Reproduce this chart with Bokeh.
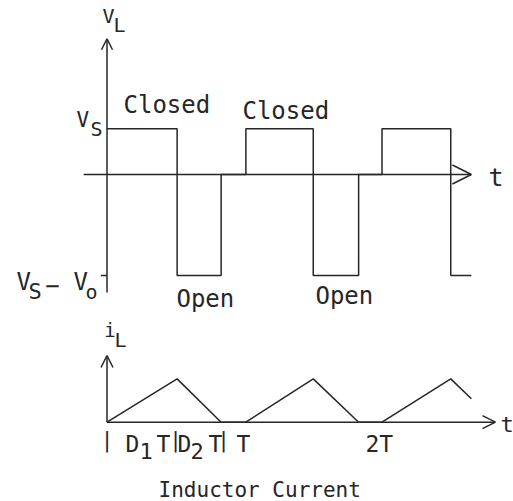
from bokeh.plotting import figure
from bokeh.layouts import column
from bokeh.models import Arrow, OpenHead
from bokeh.core.properties import value
from bokeh.embed import file_html
from bokeh.resources import INLINE

# Switching instants, in units of the period T
t_switch = [0.0, 0.51, 0.83, 1.01, 1.50, 1.83, 2.00, 2.50, 2.65]
# Inductor voltage on each interval between switching instants (units of Vs)
vL_level = [1.0, -2.21, 0.0, 1.0, -2.21, 0.0, 1.0, -2.21]
# Inductor current at each switching instant (units of peak current)
iL_value = [0.0, 1.0, 0.0, 0.0, 1.0, 0.0, 0.0, 1.0, 0.54]
# Interval labels along the current time axis
period_labels = ["T", "2T"]

INK = "#262626"
FONT = value("DejaVu Sans Mono")
LW = 1.5


def make_fig(height, y_range):
    f = figure(width=513, height=height,
               x_range=(-0.77455, 2.95636), y_range=y_range,
               output_backend="svg", toolbar_location=None,
               x_axis_location=None, y_axis_location=None,
               min_border=0)
    f.grid.visible = False
    f.outline_line_color = None
    f.background_fill_color = "white"
    f.border_fill_color = "white"
    return f


def label(f, x, y, s, size, align="left"):
    f.text(x=[x], y=[y], text=[s], text_font=FONT,
           text_font_size=f"{size}px", text_color=INK,
           text_align=align, text_baseline="alphabetic", y_offset=-6)


def arrow(f, x0, y0, x1, y1, head):
    f.add_layout(Arrow(end=OpenHead(size=head, line_color=INK, line_width=LW),
                       x_start=x0, y_start=y0, x_end=x1, y_end=y1,
                       line_color=INK, line_width=LW))


# ---------------- inductor voltage ----------------
top = make_fig(312, (-3.0197, 3.8074))

vx, vy = [], []
for k, lvl in enumerate(vL_level):
    vx += [t_switch[k], t_switch[k + 1]]
    vy += [lvl, lvl]
top.line(vx, vy, line_color=INK, line_width=LW)

# axes drawn as arrows
arrow(top, -0.17, 0.0, t_switch[-1], 0.0, 19)
arrow(top, 0.0, -2.58, 0.0, 2.97, 11)
low = min(vL_level)
top.segment(x0=[-0.045], y0=[low], x1=[0.0], y1=[low], line_color=INK, line_width=LW)

label(top, -0.033, 3.33, "V", 20)
label(top, 0.047, 3.15, "L", 20)
label(top, -0.222, 1.07, "V", 21)
label(top, -0.12, 0.875, "S", 20)
label(top, 0.12, 1.38, "Closed", 24)
label(top, 0.985, 1.25, "Closed", 24)
label(top, -0.658, -2.49, "V", 24)
label(top, -0.571, -2.69, "S", 22)
label(top, -0.45, -2.54, "\u2212", 24)
label(top, -0.244, -2.49, "V", 24)
label(top, -0.156, -2.71, "o", 20)
label(top, 0.505, -2.845, "Open", 24)
label(top, 1.516, -2.80, "Open", 24)
label(top, 2.775, -0.20, "t", 25)

# ---------------- inductor current ----------------
bot = make_fig(189, (-1.8314, 2.5335))
bot.line(t_switch, iL_value, line_color=INK, line_width=LW)

arrow(bot, 0.0, 0.0, 2.825, 0.0, 13)
arrow(bot, 0.0, 0.0, 0.0, 1.54, 12)

label(bot, -0.02, 2.0, "i", 19)
label(bot, 0.055, 1.77, "L", 20)

label(bot, 0.0, -0.56, "|", 21, "center")
label(bot, 0.135, -0.65, "D", 23)
label(bot, 0.236, -0.815, "1", 22)
label(bot, 0.36, -0.65, "T", 23)
label(bot, 0.498, -0.56, "|", 21, "center")
label(bot, 0.513, -0.65, "D", 23)
label(bot, 0.607, -0.815, "2", 22)
label(bot, 0.738, -0.65, "T", 23)
label(bot, 0.847, -0.56, "|", 21, "center")
label(bot, 0.993, -0.65, period_labels[0], 23, "center")
label(bot, 1.98, -0.65, period_labels[1], 23, "center")
label(bot, 0.375, -1.70, "Inductor Current", 21)
label(bot, 2.862, -0.19, "t", 22)

layout = column(top, bot, spacing=0)
open("out.html", "w").write(file_html(layout, INLINE))
